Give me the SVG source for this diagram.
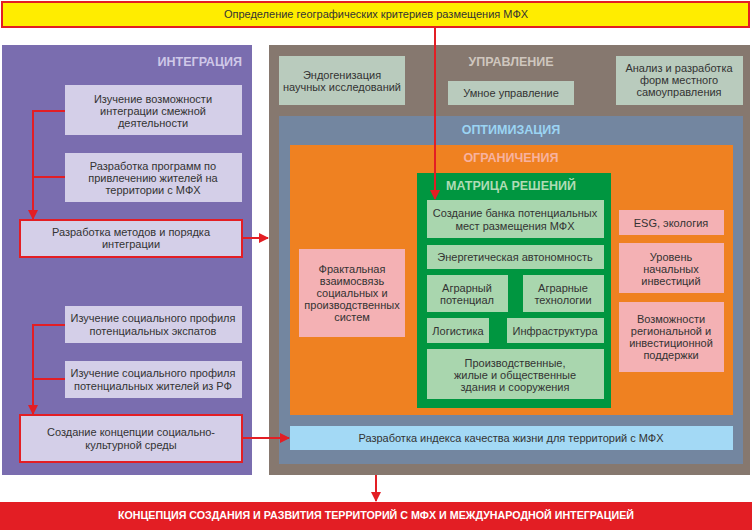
<svg xmlns="http://www.w3.org/2000/svg" width="752" height="530" viewBox="0 0 752 530">
<defs>
<marker id="ah" viewBox="0 0 10 10" refX="9" refY="5" markerWidth="5" markerHeight="5" orient="auto" markerUnits="strokeWidth">
<path d="M0,0 L10,5 L0,10 z" fill="#e31e24"/>
</marker>
<style>
text{font-family:"Liberation Sans",Arial,sans-serif;font-size:11px;fill:#333;text-anchor:middle}
.t{font-weight:bold;font-size:12.5px}
.w{fill:#fff;font-weight:bold;font-size:10.7px}
.lav{fill:#d4cfe8}
.gg{fill:#b9cbbd}
.gb{fill:#a9d6ae}
.pk{fill:#f4b1b4}
.red{stroke:#e31e24;stroke-width:2}
.c{fill:none;stroke:#e31e24;stroke-width:2}
</style>
</defs>
<rect width="752" height="530" fill="#fff"/>

<g id="top">
<rect x="2" y="2" width="747" height="25" fill="#ffed00" class="red"/>
<text x="376" y="18">Определение географических критериев размещения МФХ</text>
</g>

<g id="integration">
<rect x="2" y="45" width="250" height="430" fill="#7a6daf"/>
<text x="242" y="66" class="t" style="fill:#cfc8e8;text-anchor:end">ИНТЕГРАЦИЯ</text>
</g>
<g id="int1">
<rect x="65" y="85" width="177" height="50" class="lav"/>
<text x="153" y="103">Изучение возможности</text>
<text x="153" y="115">интеграции смежной</text>
<text x="153" y="127">деятельности</text>
</g>
<g id="int2">
<rect x="65" y="153" width="177" height="49" class="lav"/>
<text x="153" y="170">Разработка программ по</text>
<text x="153" y="182">привлечению жителей на</text>
<text x="153" y="194">территории с МФХ</text>
</g>
<g id="int3">
<rect x="20" y="220" width="222" height="37" class="lav red"/>
<text x="131" y="236">Разработка методов и порядка</text>
<text x="131" y="248">интеграции</text>
</g>
<g id="int4">
<rect x="65" y="306" width="177" height="37" class="lav"/>
<text x="153" y="322">Изучение социального профиля</text>
<text x="153" y="335">потенциальных экспатов</text>
</g>
<g id="int5">
<rect x="65" y="361" width="177" height="37" class="lav"/>
<text x="153" y="377">Изучение социального профиля</text>
<text x="153" y="390">потенциальных жителей из РФ</text>
</g>
<g id="int6">
<rect x="20" y="415" width="222" height="47" class="lav red"/>
<text x="131" y="436">Создание концепции социально-</text>
<text x="131" y="449">культурной среды</text>
</g>

<g id="management">
<rect x="269" y="45" width="481" height="430" fill="#86786f"/>
<text x="511" y="66" class="t" style="fill:#cfc6be">УПРАВЛЕНИЕ</text>
</g>
<g id="endo">
<rect x="279" y="56" width="126" height="49" class="gg"/>
<text x="342" y="79">Эндогенизация</text>
<text x="342" y="91">научных исследований</text>
</g>
<g id="smart">
<rect x="448" y="81" width="126" height="24" class="gg"/>
<text x="511" y="97">Умное управление</text>
</g>
<g id="analysis">
<rect x="616" y="56" width="127" height="49" class="gg"/>
<text x="679" y="72">Анализ и разработка</text>
<text x="679" y="84">форм местного</text>
<text x="679" y="96">самоуправления</text>
</g>

<g id="optimization">
<rect x="279" y="116" width="464" height="348" fill="#7386a0"/>
<text x="511" y="134" class="t" style="fill:#9bd4f3">ОПТИМИЗАЦИЯ</text>
</g>

<g id="limits">
<rect x="290" y="145" width="443" height="270" fill="#ef8121"/>
<text x="511" y="162" class="t" style="fill:#f7b2a0">ОГРАНИЧЕНИЯ</text>
</g>

<g id="fractal">
<rect x="299" y="249" width="106" height="88" class="pk"/>
<text x="352" y="273">Фрактальная</text>
<text x="352" y="285">взаимосвязь</text>
<text x="352" y="297">социальных и</text>
<text x="352" y="309">производственных</text>
<text x="352" y="321">систем</text>
</g>

<g id="matrix">
<rect x="417" y="173" width="194" height="235" fill="#009640"/>
<text x="511" y="190" class="t" style="fill:#b0dcb5">МАТРИЦА РЕШЕНИЙ</text>
</g>
<g id="bank">
<rect x="427" y="200" width="177" height="38" class="gb"/>
<text x="515" y="217">Создание банка потенциальных</text>
<text x="515" y="230">мест размещения МФХ</text>
</g>
<g id="energy">
<rect x="427" y="245" width="177" height="24" class="gb"/>
<text x="515" y="261">Энергетическая автономность</text>
</g>
<g id="agropot">
<rect x="427" y="275" width="81" height="37" class="gb"/>
<text x="467" y="292">Аграрный</text>
<text x="467" y="304">потенциал</text>
</g>
<g id="agrotech">
<rect x="523" y="275" width="81" height="37" class="gb"/>
<text x="563" y="292">Аграрные</text>
<text x="563" y="304">технологии</text>
</g>
<g id="logistics">
<rect x="427" y="318" width="62" height="25" class="gb"/>
<text x="458" y="335">Логистика</text>
</g>
<g id="infra">
<rect x="507" y="318" width="97" height="25" class="gb"/>
<text x="555" y="335">Инфраструктура</text>
</g>
<g id="buildings">
<rect x="427" y="349" width="177" height="50" class="gb"/>
<text x="515" y="367">Производственные,</text>
<text x="515" y="379">жилые и общественные</text>
<text x="515" y="391">здания и сооружения</text>
</g>

<g id="esg">
<rect x="619" y="210" width="105" height="25" class="pk"/>
<text x="671" y="227">ESG, экология</text>
</g>
<g id="invest">
<rect x="619" y="243" width="105" height="50" class="pk"/>
<text x="671" y="261">Уровень</text>
<text x="671" y="273">начальных</text>
<text x="671" y="285">инвестиций</text>
</g>
<g id="support">
<rect x="619" y="302" width="105" height="70" class="pk"/>
<text x="671" y="323">Возможности</text>
<text x="671" y="335">региональной и</text>
<text x="671" y="347">инвестиционной</text>
<text x="671" y="359">поддержки</text>
</g>

<g id="index">
<rect x="290" y="426" width="443" height="24" fill="#a3d9f5"/>
<text x="511" y="442">Разработка индекса качества жизни для территорий с МФХ</text>
</g>

<g id="concept">
<rect x="0" y="502" width="752" height="28" fill="#e31e24"/>
<text x="376" y="519" class="w">КОНЦЕПЦИЯ СОЗДАНИЯ И РАЗВИТИЯ ТЕРРИТОРИЙ С МФХ И МЕЖДУНАРОДНОЙ ИНТЕГРАЦИЕЙ</text>
</g>

<g id="connectors">
<path d="M65,111 H33 V219" class="c" marker-end="url(#ah)"/>
<path d="M65,177 H33" class="c"/>
<path d="M65,325 H33 V414" class="c" marker-end="url(#ah)"/>
<path d="M65,379 H33" class="c"/>
<path d="M242,238 H268" class="c" marker-end="url(#ah)"/>
<path d="M242,438 H289" class="c" marker-end="url(#ah)"/>
<path d="M435,27 V199" class="c" marker-end="url(#ah)"/>
<path d="M376,475 V501" class="c" marker-end="url(#ah)"/>
</g>
</svg>
